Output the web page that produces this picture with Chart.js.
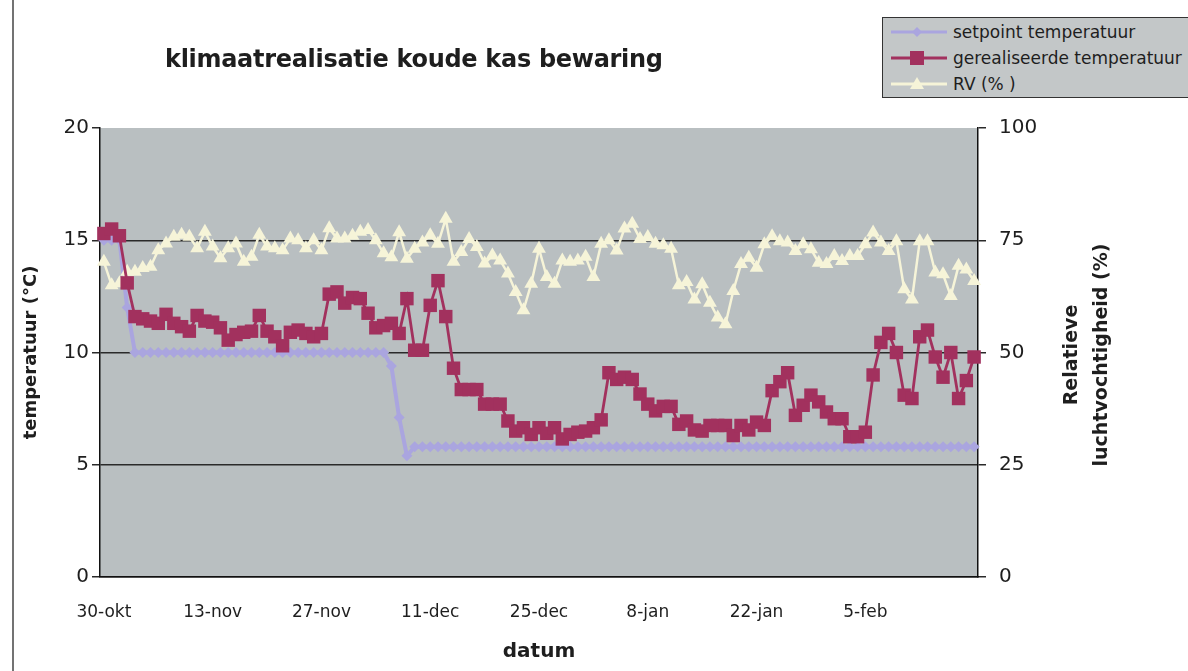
<!DOCTYPE html>
<html>
<head>
<meta charset="utf-8">
<script src="https://cdn.jsdelivr.net/npm/chart.js@4.4.1/dist/chart.umd.min.js"></script>
<style>
  html, body { margin: 0; padding: 0; background: #ffffff; overflow: hidden; }
  #wrap { position: relative; width: 1188px; height: 671px; overflow: hidden; }
  canvas { position: absolute; left: 0; top: 0; }
  .title { position: absolute; left: 165px; top: 45px; font: bold 24px "DejaVu Sans", sans-serif; color: #1e1e1e; white-space: nowrap; letter-spacing: -0.3px; }
  .legend { position: absolute; left: 882px; top: 17px; width: 330px; height: 81px; background: #c3c7c8; border: 1.5px solid #333; box-sizing: border-box; }
  .legend .row { position: absolute; left: 8px; height: 20px; display: flex; align-items: center; font: 17px "DejaVu Sans", sans-serif; color: #1e1e1e; white-space: nowrap; }
  .legend svg { margin-right: 6px; }
  .ytitle2 { position: absolute; left: 1085px; top: 355px; width: 320px; transform: translate(-50%, -50%) rotate(-90deg); text-align: center; font: bold 19px "DejaVu Sans", sans-serif; line-height: 30px; color: #1e1e1e; white-space: nowrap; }
</style>
</head>
<body>
<div id="wrap">
  <canvas id="c" width="1188" height="671"></canvas>
  <div class="title">klimaatrealisatie koude kas bewaring</div>
  <div class="legend" id="legend"></div>
  <div class="ytitle2">Relatieve<br>luchtvochtigheid (%)</div>
</div>
<script>
// ---- data ----
const startDate = [30, 10]; // 30 oktober
const monthNames = ['jan','feb','mrt','apr','mei','jun','jul','aug','sep','okt','nov','dec'];
const tickLabels = ['30-okt','13-nov','27-nov','11-dec','25-dec','8-jan','22-jan','5-feb'];

const setpointTemp = [
  15, 15, 15, 12, 10, 10, 10, 10, 10, 10,
  10, 10, 10, 10, 10, 10, 10, 10, 10, 10,
  10, 10, 10, 10, 10, 10, 10, 10, 10, 10,
  10, 10, 10, 10, 10, 10, 10, 9.4, 7.1, 5.4,
  5.8, 5.8, 5.8, 5.8, 5.8, 5.8, 5.8, 5.8, 5.8, 5.8,
  5.8, 5.8, 5.8, 5.8, 5.8, 5.8, 5.8, 5.8, 5.8, 5.8,
  5.8, 5.8, 5.8, 5.8, 5.8, 5.8, 5.8, 5.8, 5.8, 5.8,
  5.8, 5.8, 5.8, 5.8, 5.8, 5.8, 5.8, 5.8, 5.8, 5.8,
  5.8, 5.8, 5.8, 5.8, 5.8, 5.8, 5.8, 5.8, 5.8, 5.8,
  5.8, 5.8, 5.8, 5.8, 5.8, 5.8, 5.8, 5.8, 5.8, 5.8,
  5.8, 5.8, 5.8, 5.8, 5.8, 5.8, 5.8, 5.8, 5.8, 5.8,
  5.8, 5.8, 5.8
];

const realisedTemp = [
  15.3, 15.5, 15.2, 13.1, 11.6, 11.5, 11.4, 11.3, 11.7, 11.3,
  11.15, 10.95, 11.65, 11.4, 11.35, 11.1, 10.55, 10.8, 10.9, 10.95,
  11.65, 10.95, 10.7, 10.3, 10.9, 11.0, 10.85, 10.7, 10.85, 12.6,
  12.7, 12.2, 12.45, 12.4, 11.75, 11.1, 11.2, 11.3, 10.85, 12.4,
  10.1, 10.1, 12.1, 13.2, 11.6, 9.3, 8.35, 8.35, 8.35, 7.7,
  7.7, 7.7, 6.95, 6.5, 6.65, 6.35, 6.65, 6.4, 6.65, 6.15,
  6.35, 6.45, 6.5, 6.65, 7.0, 9.1, 8.8, 8.9, 8.8, 8.15,
  7.7, 7.4, 7.6, 7.6, 6.8, 6.95, 6.55, 6.5, 6.75, 6.75,
  6.75, 6.3, 6.75, 6.55, 6.9, 6.75, 8.3, 8.7, 9.1, 7.2,
  7.65, 8.1, 7.8, 7.35, 7.05, 7.05, 6.25, 6.25, 6.45, 9.0,
  10.45, 10.85, 10.0, 8.1, 7.95, 10.7, 11.0, 9.8, 8.9, 10.0,
  7.95, 8.75, 9.8
];

const rvPercent = [
  70.2, 65.0, 65.4, 68.0, 68.0, 68.8, 69.1, 72.8, 74.3, 75.8,
  76.2, 75.8, 73.2, 76.9, 73.6, 71.0, 73.2, 74.3, 70.2, 71.3,
  76.2, 73.6, 73.2, 72.8, 75.4, 75.0, 73.2, 75.0, 72.8, 77.7,
  75.4, 75.4, 76.0, 76.9, 77.3, 75.0, 72.1, 71.2, 76.8, 70.9,
  73.1, 74.5, 76.1, 74.2, 79.8, 70.2, 72.4, 75.3, 73.5, 69.8,
  71.6, 70.5, 67.6, 63.5, 59.4, 65.3, 73.1, 66.8, 65.3, 70.5,
  70.2, 70.5, 71.3, 66.8, 74.2, 75.0, 72.7, 77.6, 78.7, 75.3,
  75.7, 74.2, 73.9, 73.1, 65.0, 65.7, 61.8, 65.2, 61.1, 57.8,
  56.3, 63.7, 69.7, 71.1, 68.9, 74.1, 75.9, 74.8, 74.5, 72.6,
  74.1, 73.0, 70.0, 69.7, 71.5, 70.4, 71.5, 71.5, 74.1, 76.7,
  74.5, 72.6, 74.8, 64.1, 61.8, 74.8, 74.8, 67.8, 67.4, 62.6,
  69.3, 68.5, 65.9
];

// category labels: one per day from 30-okt
const categories = [];
{
  const d = new Date(2001, startDate[1] - 1, startDate[0]);
  for (let i = 0; i < realisedTemp.length; i++) {
    categories.push(d.getDate() + '-' + monthNames[d.getMonth()]);
    d.setDate(d.getDate() + 1);
  }
}

const seriesNames = ['setpoint temperatuur', 'gerealiseerde temperatuur', 'RV (% )'];
const colSet = '#aaa5df';
const colReal = '#a2315e';
const colRV = '#f6f4d8';

// ---- legend (HTML) ----
const legendDefs = [
  {name: seriesNames[0], color: colSet, marker: 'diamond'},
  {name: seriesNames[1], color: colReal, marker: 'square'},
  {name: seriesNames[2], color: colRV, marker: 'triangle'}
];
const legendEl = document.getElementById('legend');
const rowTops = [4, 30, 56];
legendDefs.forEach((d, i) => {
  let m = '';
  if (d.marker === 'diamond') m = `<polygon points="26,3 31,8 26,13 21,8" fill="${d.color}"/>`;
  if (d.marker === 'square') m = `<rect x="19" y="1" width="14" height="14" fill="${d.color}"/>`;
  if (d.marker === 'triangle') m = `<polygon points="26,1 33,13 19,13" fill="${d.color}"/>`;
  legendEl.insertAdjacentHTML('beforeend',
    `<div class="row" style="top:${rowTops[i]}px"><svg width="56" height="16"><line x1="0" y1="8" x2="56" y2="8" stroke="${d.color}" stroke-width="3"/>${m}</svg><span>${d.name}</span></div>`);
});

// ---- plot background plugin ----
const bgPlugin = {
  id: 'plotBg',
  beforeDraw(chart) {
    const {ctx, chartArea: a} = chart;
    ctx.save();
    ctx.fillStyle = '#b9bfc1';
    ctx.fillRect(a.left, a.top, a.right - a.left, a.bottom - a.top);
    ctx.restore();
  },
  afterDraw(chart) {
    const {ctx} = chart;
    ctx.save();
    ctx.strokeStyle = '#444';
    ctx.lineWidth = 1.5;
    ctx.beginPath();
    ctx.moveTo(13, 0); ctx.lineTo(13, 671);
    ctx.stroke();
    ctx.restore();
  }
};

const FONT = '"DejaVu Sans", sans-serif';

new Chart(document.getElementById('c'), {
  type: 'line',
  data: {
    labels: categories,
    datasets: [
      {
        label: seriesNames[0], data: setpointTemp, yAxisID: 'y', order: 3,
        borderColor: colSet, backgroundColor: colSet, borderWidth: 4,
        pointStyle: 'rectRot', pointRadius: 5.5, pointBorderWidth: 0, tension: 0, clip: false
      },
      {
        label: seriesNames[1], data: realisedTemp, yAxisID: 'y', order: 1,
        borderColor: colReal, backgroundColor: colReal, borderWidth: 2.8,
        pointStyle: 'rect', pointRadius: 9.5, pointBorderWidth: 0, tension: 0, clip: false
      },
      {
        label: seriesNames[2], data: rvPercent, yAxisID: 'y1', order: 2,
        borderColor: colRV, backgroundColor: colRV, borderWidth: 2.5,
        pointStyle: 'triangle', pointRadius: 8, pointBorderWidth: 0, tension: 0, clip: false
      }
    ]
  },
  options: {
    responsive: false,
    animation: false,
    devicePixelRatio: 1,
    layout: { padding: { top: 128, left: 0, right: 0, bottom: 0 } },
    plugins: {
      legend: { display: false },
      title: { display: false },
      tooltip: { enabled: false }
    },
    scales: {
      x: {
        type: 'category',
        offset: true,
        grid: { display: false, drawOnChartArea: false },
        border: { display: true, color: '#111', width: 1.5 },
        ticks: {
          autoSkip: false, maxRotation: 0, minRotation: 0, padding: 17,
          color: '#1e1e1e', font: { family: FONT, size: 17 },
          callback: function(val, idx) {
            const lab = this.getLabelForValue(val);
            return tickLabels.includes(lab) ? lab : '';
          }
        },
        title: { display: true, text: 'datum', color: '#1e1e1e', font: { family: FONT, size: 20, weight: 'bold' }, padding: { top: 0, bottom: 7 } },
        afterFit(scale) { scale.height = 94; }
      },
      y: {
        position: 'left', min: 0, max: 20,
        ticks: { stepSize: 5, padding: 3, color: '#1e1e1e', font: { family: FONT, size: 20 } },
        grid: {
          color: (c) => (c.tick && c.tick.value === 20) ? 'rgba(0,0,0,0)' : '#2a2a2a',
          lineWidth: 1.5, tickLength: 8, tickColor: '#2a2a2a'
        },
        border: { display: true, color: '#111', width: 1.5 },
        title: { display: true, text: 'temperatuur (°C)', color: '#1e1e1e', font: { family: FONT, size: 18, weight: 'bold' }, padding: { top: 21, bottom: 0 } },
        afterFit(scale) { scale.width = 100; }
      },
      y1: {
        position: 'right', min: 0, max: 100,
        ticks: { stepSize: 25, padding: 13, color: '#1e1e1e', font: { family: FONT, size: 20 } },
        grid: { drawOnChartArea: false, tickLength: 8, tickColor: '#2a2a2a', lineWidth: 1.5 },
        border: { display: true, color: '#111', width: 1.5 },
        afterFit(scale) { scale.width = 210; }
      }
    }
  },
  plugins: [bgPlugin]
});
</script>
</body>
</html>
